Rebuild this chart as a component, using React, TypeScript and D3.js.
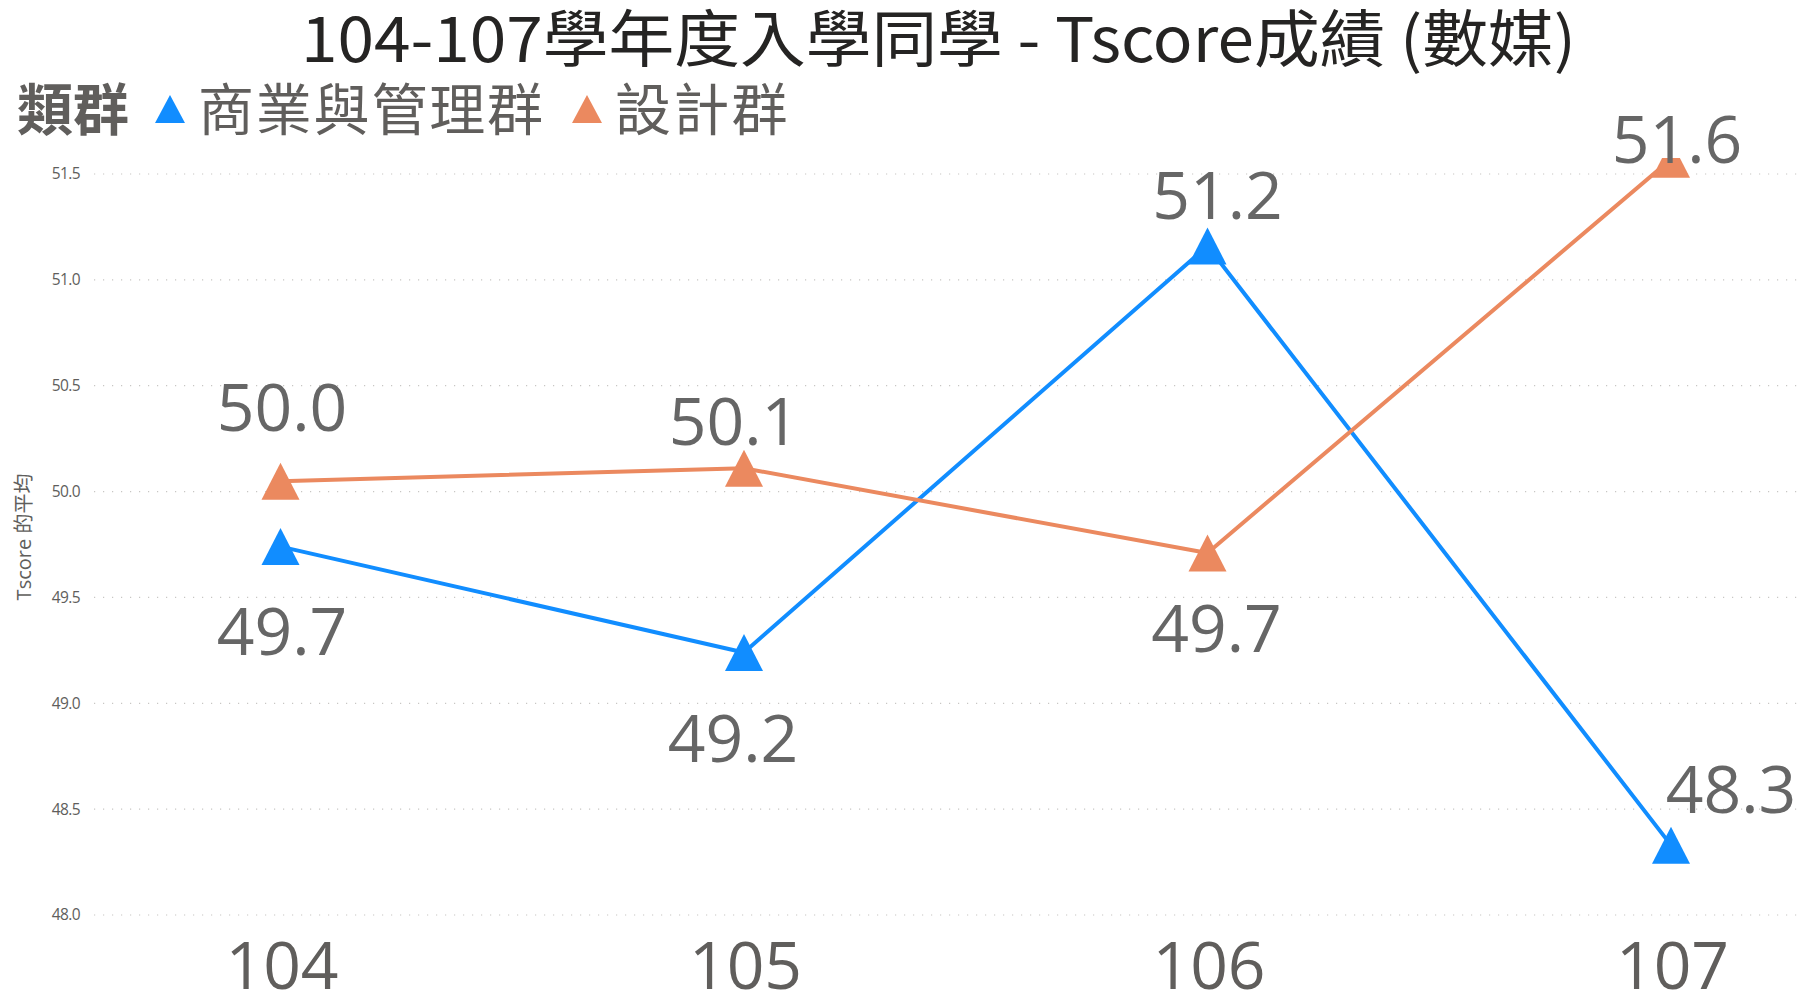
import React from "react";
import * as d3 from "d3";

const categories = ["104", "105", "106", "107"];
const seriesNames = ["商業與管理群", "設計群"];
const businessValues = [49.74, 49.24, 51.16, 48.33];
const designValues = [50.049, 50.11, 49.71, 51.57];
const yTicks = [48.0, 48.5, 49.0, 49.5, 50.0, 50.5, 51.0, 51.5];
const titleText = "104-107學年度入學同學 - Tscore成績 (數媒)";
const legendTitle = "類群";
const yAxisTitle = "Tscore 的平均";

const W = 1804;
const H = 992;
const COLORS = ["#118DFF", "#EB895F"];
// label nudges relative to the point (dx, dy to baseline), per series per category
const LABEL_NUDGE = [
  [[1.5, 108], [-11, 110], [10, -27], [60, -32]],
  [[1.5, -50], [-10, -23], [9, 99], [6, 4]],
];

export default function App() {
  const x = d3.scalePoint<string>().domain(categories).range([280.5, 1671]);
  const y = d3.scaleLinear().domain([48, 51.5]).range([915, 174]);
  const series = [businessValues, designValues];
  const line = d3
    .line<number>()
    .x((_, i) => x(categories[i]) as number)
    .y((d) => y(d));
  const fmt = d3.format(".1f");
  const tri = (cx: number, cy: number) =>
    `M${cx - 19},${cy + 18.5}L${cx},${cy - 18.5}L${cx + 19},${cy + 18.5}Z`;

  const legendFont = 56;
  let lx = 17 + 2 * legendFont + 26;
  const legendItems = seriesNames.map((n, i) => {
    const item = { name: n, color: COLORS[i], mx: lx + 15, tx: lx + 43 };
    lx = lx + 43 + n.length * 57.5 + 29;
    return item;
  });

  return (
    <svg
      width={W}
      height={H}
      style={{ position: "absolute", left: 0, top: 0, background: "#fff" }}
    >
      <defs>
        <clipPath id="plotClip">
          <rect x={0} y={158} width={W} height={H - 158} />
        </clipPath>
      </defs>
      {/* title */}
      <text
        x={301}
        y={62}
        textLength={1275}
        lengthAdjust="spacingAndGlyphs"
        fill="#252423"
        fontSize={62}
        fontWeight={400}
        fontFamily='"Noto Sans CJK TC", "Noto Sans"'
      >
        {titleText}
      </text>
      {/* legend */}
      <text
        x={17}
        y={130}
        fontSize={legendFont}
        fontWeight={700}
        fill="#605E5C"
        fontFamily='"Noto Sans CJK TC"'
      >
        {legendTitle}
      </text>
      {legendItems.map((it) => (
        <g key={it.name}>
          <path
            d={`M${it.mx - 15},123L${it.mx},95L${it.mx + 15},123Z`}
            fill={it.color}
          />
          <text
            x={it.tx}
            y={130}
            fontSize={legendFont}
            fill="#605E5C"
            fontFamily='"Noto Sans CJK TC"'
            textLength={it.name.length * 57.5}
          >
            {it.name}
          </text>
        </g>
      ))}
      {/* y axis title */}
      <text
        transform="translate(31,537) rotate(-90)"
        textAnchor="middle"
        fontSize={20}
        fill="#605E5C"
        fontFamily='"Open Sans", "Noto Sans CJK TC"'
      >
        {yAxisTitle}
      </text>
      {/* gridlines and ticks */}
      {yTicks.map((t) => (
        <g key={t}>
          <line
            x1={94}
            x2={W}
            y1={y(t)}
            y2={y(t)}
            stroke="#C8C6C4"
            strokeWidth={1.2}
            strokeDasharray="1.2 7.8"
          />
          <text
            x={80}
            y={y(t)}
            dy="0.35em"
            textAnchor="end"
            fontSize={15.5}
            fill="#605E5C"
            fontFamily='"Open Sans"'
            letterSpacing={-0.6}
          >
            {fmt(t)}
          </text>
        </g>
      ))}
      {/* x axis labels */}
      {categories.map((c) => (
        <text
          key={c}
          x={(x(c) as number) + 1.5}
          y={989}
          textAnchor="middle"
          fontSize={66}
          fill="#605E5C"
          fontFamily='"Open Sans"'
        >
          {c}
        </text>
      ))}
      {/* lines and markers */}
      <g clipPath="url(#plotClip)">
        {series.map((vals, si) => (
          <path
            key={si}
            d={line(vals) as string}
            fill="none"
            stroke={COLORS[si]}
            strokeWidth={4}
            strokeLinejoin="round"
          />
        ))}
        {series.map((vals, si) =>
          vals.map((v, i) => (
            <path
              key={`${si}-${i}`}
              d={tri(x(categories[i]) as number, y(v))}
              fill={COLORS[si]}
            />
          ))
        )}
      </g>
      {/* data labels */}
      {series.map((vals, si) =>
        vals.map((v, i) => (
          <text
            key={`l${si}-${i}`}
            x={(x(categories[i]) as number) + LABEL_NUDGE[si][i][0]}
            y={y(v) + LABEL_NUDGE[si][i][1]}
            textAnchor="middle"
            fontSize={66}
            fill="#666666"
            fontFamily='"Open Sans"'
          >
            {fmt(v)}
          </text>
        ))
      )}
    </svg>
  );
}
